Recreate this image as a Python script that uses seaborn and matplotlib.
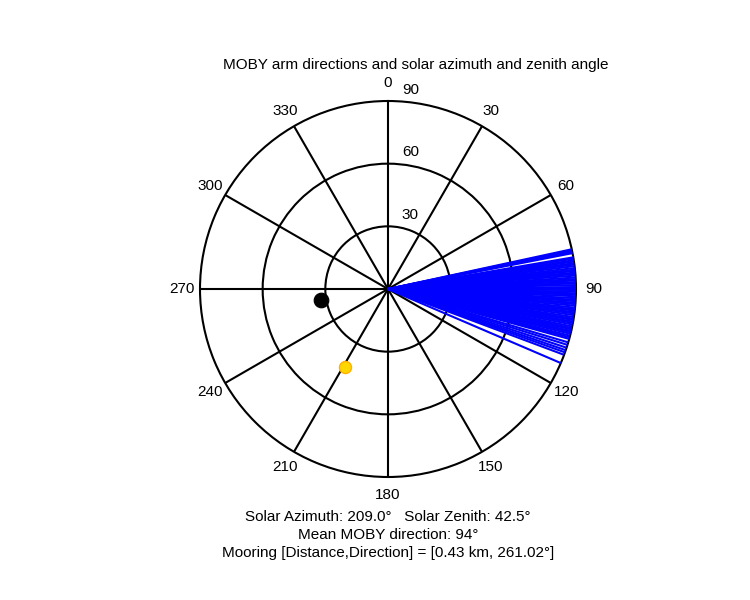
import numpy as np
import pandas as pd
import matplotlib
matplotlib.use("Agg")
import matplotlib.pyplot as plt
import seaborn as sns

# MOBY arm directions (deg, clockwise from north)
arm_dirs = [77.8, 78.1, 78.4, 78.7, 79.0,
            80.3, 80.7, 81.2, 81.6, 82.1, 82.5, 83.0, 83.6, 84.1, 84.5,
            85.0, 85.4, 85.9, 86.5, 87.0, 87.4, 87.9, 88.3, 88.8, 89.4,
            89.9, 90.3, 90.8, 91.3, 91.7, 92.2, 92.8, 93.3, 93.7, 94.2,
            94.6, 95.1, 95.7, 96.2, 96.6, 97.1, 97.5, 98.0, 98.6, 99.1,
            99.5, 100.0, 100.4, 100.9, 101.5, 102.0, 102.4, 102.9, 103.3,
            103.8, 104.4, 104.9, 105.4,
            106.5, 107.3, 108.2, 109.0, 109.7, 110.5, 113.2]
arm_len = 90

solar_az = 209.0
solar_zen = 42.5
mooring_dir = 261.02
mooring_r = 32.4
mean_dir = 94

ring_vals = [30, 60, 90]
az_ticks = [0, 30, 60, 90, 120, 150, 180, 210, 240, 270, 300, 330]

# long-form table for seaborn: one unit per arm, from centre to rim
arms = pd.DataFrame({
    "arm": np.repeat(np.arange(len(arm_dirs)), 2),
    "theta": np.deg2rad(np.repeat(arm_dirs, 2)),
    "r": np.tile([0, arm_len], len(arm_dirs)),
})

sns.set_style("white")
plt.rcParams["font.family"] = ["Liberation Sans", "DejaVu Sans"]
plt.rcParams["text.color"] = "black"
fs = 11

fig = plt.figure(figsize=(7.5, 6), dpi=100)
cx, cy, rad = 388 / 750, 1 - 289 / 600, 188
ax = fig.add_axes([cx - rad / 750, cy - rad / 600, 2 * rad / 750, 2 * rad / 600],
                  projection="polar")
ax.set_theta_zero_location("N")
ax.set_theta_direction(-1)
ax.set_ylim(0, 90)

# grid: solid black spokes and rings like the MATLAB polar plot
ax.set_thetagrids(az_ticks, labels=[])
ax.set_rgrids(ring_vals[:-1], labels=[])
ax.grid(True, color="black", lw=1.5, ls="-")
ax.set_axisbelow(True)
ax.spines["polar"].set_color("black")
ax.spines["polar"].set_linewidth(1.5)

sns.lineplot(data=arms, x="theta", y="r", units="arm", estimator=None,
             sort=False, color="blue", lw=1.5, ax=ax, legend=False, zorder=3)

sns.scatterplot(x=[np.deg2rad(mooring_dir)], y=[mooring_r], color="black",
                s=110, edgecolor="black", ax=ax, zorder=4)
sns.scatterplot(x=[np.deg2rad(solar_az)], y=[solar_zen], color="#FFD700",
                s=75, edgecolor="#FFB000", linewidth=1, ax=ax, zorder=4)

ax.set_xlabel("")
ax.set_ylabel("")

# azimuth labels outside the rim
for a in az_ticks:
    ax.text(np.deg2rad(a), 98.5, str(a), ha="center", va="center",
            fontsize=fs, clip_on=False)

# ring labels just right of the north spoke
for rv in ring_vals:
    ax.annotate(str(rv), xy=(0, rv), xytext=(10, 3), textcoords="offset points",
                ha="left", va="bottom", fontsize=fs)

fig.text(416 / 750, 1 - 65 / 600,
         "MOBY arm directions and solar azimuth and zenith angle",
         ha="center", va="center", fontsize=fs)

lines = [
    f"Solar Azimuth: {solar_az:.1f}°   Solar Zenith: {solar_zen:.1f}°",
    f"Mean MOBY direction: {mean_dir}°",
    f"Mooring [Distance,Direction] = [0.43 km, {mooring_dir:.2f}°]",
]
for y, s in zip([517, 535, 553], lines):
    fig.text(388 / 750, 1 - y / 600, s, ha="center", va="center", fontsize=fs)

fig.savefig("out.png", dpi=100)
